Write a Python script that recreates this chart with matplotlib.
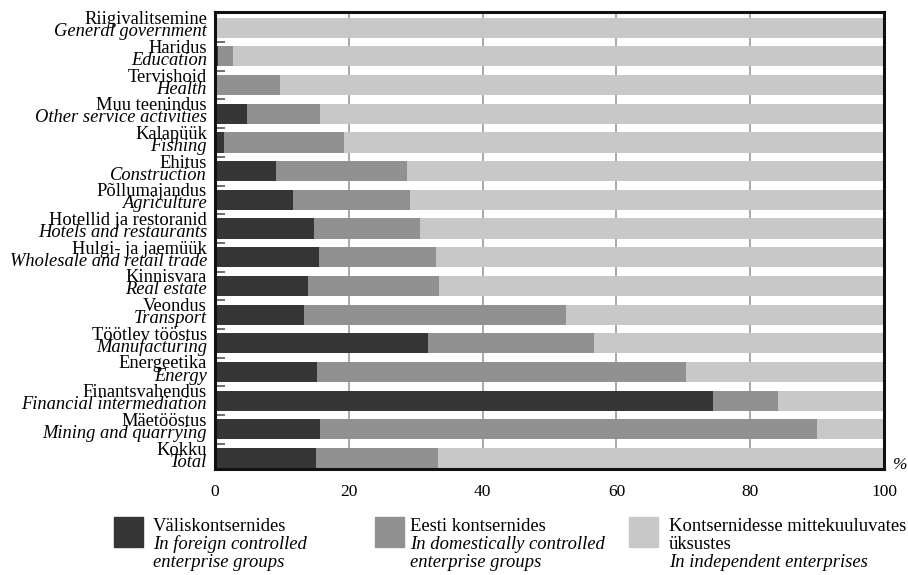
import matplotlib.pyplot as plt
from matplotlib.patches import Rectangle

plt.rcParams['font.family'] = ['Liberation Serif', 'DejaVu Serif']

# tegevusalad, alt üles (Kokku all)
labels_et = ['Kokku', 'Mäetööstus', 'Finantsvahendus', 'Energeetika', 'Töötlev tööstus',
             'Veondus', 'Kinnisvara', 'Hulgi- ja jaemüük', 'Hotellid ja restoranid',
             'Põllumajandus', 'Ehitus', 'Kalapüük', 'Muu teenindus', 'Tervishoid',
             'Haridus', 'Riigivalitsemine']
labels_en = ['Total', 'Mining and quarrying', 'Financial intermediation', 'Energy',
             'Manufacturing', 'Transport', 'Real estate', 'Wholesale and retail trade',
             'Hotels and restaurants', 'Agriculture', 'Construction', 'Fishing',
             'Other service activities', 'Health', 'Education', 'General government']

foreign = [15.1, 15.7, 74.4, 15.3, 31.9, 13.3, 13.9, 15.6, 14.8, 11.7, 9.1, 1.3, 4.8, 0.0, 0.4, 0.0]
domestic = [18.3, 74.3, 9.7, 55.1, 24.8, 39.1, 19.6, 17.5, 15.9, 17.5, 19.6, 18.0, 10.9, 9.7, 2.3, 0.0]
independent = [100 - f - d for f, d in zip(foreign, domestic)]

legend_lines = [
    ['Väliskontsernides', 'In foreign controlled', 'enterprise groups'],
    ['Eesti kontsernides', 'In domestically controlled', 'enterprise groups'],
    ['Kontsernidesse mittekuuluvates', 'üksustes', 'In independent enterprises'],
]
legend_italic = [[False, True, True], [False, True, True], [False, False, True]]

colors = ['#363636', '#919191', '#c8c8c8']

fig = plt.figure(figsize=(9.08, 5.75), dpi=100)
ax = fig.add_axes([215 / 908, 1 - 469 / 575, 669 / 908, 457 / 575])

y = range(len(labels_et))
left3 = [f + d for f, d in zip(foreign, domestic)]
ax.barh(y, foreign, height=0.7, color=colors[0], zorder=2)
ax.barh(y, domestic, left=foreign, height=0.7, color=colors[1], zorder=2)
ax.barh(y, independent, left=left3, height=0.7, color=colors[2], zorder=2)

ax.set_xlim(0, 100)
ax.set_ylim(-0.385, 15.55)
ax.set_xticks([0, 20, 40, 60, 80, 100])
ax.tick_params(axis='x', length=0, labelsize=12.5, pad=11)
ax.xaxis.grid(True, color='#999999', linewidth=1.2, zorder=0)
ax.set_yticks([])
ax.set_yticks([i + 0.5 for i in range(15)], minor=True)
ax.tick_params(axis='y', which='minor', direction='in', length=7, width=1.2, color='#555555')
for s in ax.spines.values():
    s.set_linewidth(2.2)
    s.set_color('#111111')

# kategooriate sildid
for i in y:
    ax.text(-1.2, i + 0.12, labels_et[i], ha='right', va='baseline', fontsize=13.3)
    ax.text(-1.2, i - 0.30, labels_en[i], ha='right', va='baseline', fontsize=13.3, style='italic')

fig.text(900 / 908, 1 - 465 / 575, '%', ha='center', va='center', fontsize=12.5, style='italic')

# legend
box_x = [114, 375, 629]
text_x = [153, 410, 669]
baselines = [531, 549, 567]
for k in range(3):
    fig.patches.append(Rectangle((box_x[k] / 908, 1 - 547 / 575), 29 / 908, 30 / 575,
                                 transform=fig.transFigure, color=colors[k]))
    for j, line in enumerate(legend_lines[k]):
        fig.text(text_x[k] / 908, 1 - baselines[j] / 575, line, ha='left', va='baseline',
                 fontsize=13.4, style='italic' if legend_italic[k][j] else 'normal')

fig.savefig('out.png', dpi=100)
